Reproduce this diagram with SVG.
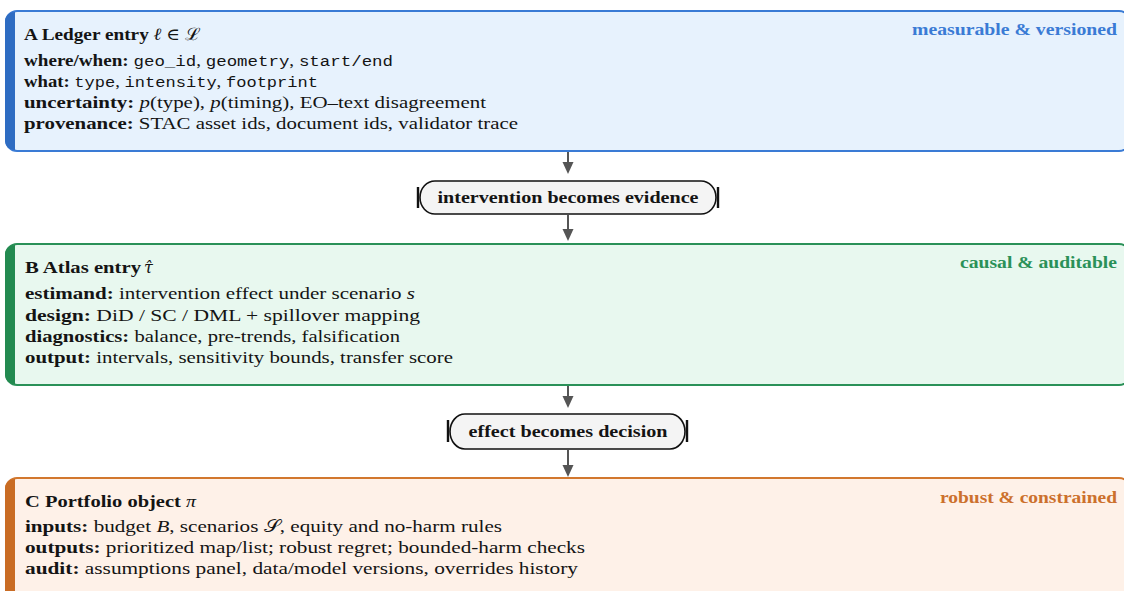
<svg xmlns="http://www.w3.org/2000/svg" width="1124" height="591" viewBox="0 0 1124 591">
<style>
text{font-family:"Liberation Serif","DejaVu Serif",serif;fill:#141414;font-size:17px}
.t{font-weight:bold;font-size:17.5px}
.b{font-weight:bold}
.m{font-family:"Liberation Mono","DejaVu Sans Mono",monospace;font-size:15.5px}
.i{font-style:italic}
.lab{font-weight:bold;font-size:17px;text-anchor:end}
.pill{fill:#f4f4f4;stroke:#111;stroke-width:1.6}
.bar{stroke:#111;stroke-width:2.4}
.pt{font-weight:bold;font-size:17.5px;text-anchor:middle}
.conn line{stroke:#555;stroke-width:2}
.conn polygon{fill:#555}
</style>
<g id="nodeA">
<rect x="6" y="11" width="1124" height="140" rx="11" fill="#e7f2fd" stroke="#3a7bd5" stroke-width="2"/>
<path d="M15,12 V150 H14 A9,9 0 0 1 5,141 V21 A9,9 0 0 1 14,12 Z" fill="#2e6cc2"/>
<text class="lab" x="1117" y="35" style="fill:#3a7bd5" textLength="205" lengthAdjust="spacingAndGlyphs">measurable &amp; versioned</text>
<text x="24" y="40" textLength="176" lengthAdjust="spacingAndGlyphs"><tspan class="t">A Ledger entry </tspan><tspan class="i">ℓ</tspan> ∈ ℒ</text>
<text x="24" y="66" textLength="369" lengthAdjust="spacingAndGlyphs"><tspan class="b">where/when: </tspan><tspan class="m">geo_id</tspan>, <tspan class="m">geometry</tspan>, <tspan class="m">start/end</tspan></text>
<text x="24" y="87" textLength="294" lengthAdjust="spacingAndGlyphs"><tspan class="b">what: </tspan><tspan class="m">type</tspan>, <tspan class="m">intensity</tspan>, <tspan class="m">footprint</tspan></text>
<text x="24" y="108" textLength="462" lengthAdjust="spacingAndGlyphs"><tspan class="b">uncertainty: </tspan><tspan class="i">p</tspan>(type), <tspan class="i">p</tspan>(timing), EO–text disagreement</text>
<text x="24" y="129" textLength="494" lengthAdjust="spacingAndGlyphs"><tspan class="b">provenance: </tspan>STAC asset ids, document ids, validator trace</text>
</g>
<g id="pill1">
<path class="pill" d="M435,181 H701 A15,16.5 0 0 1 716,197.5 A15,16.5 0 0 1 701,214 H435 A15,16.5 0 0 1 420,197.5 A15,16.5 0 0 1 435,181 Z"/>
<line class="bar" x1="418" y1="187" x2="418" y2="208"/>
<line class="bar" x1="718" y1="187" x2="718" y2="208"/>
<text class="pt" x="568" y="203" textLength="261" lengthAdjust="spacingAndGlyphs">intervention becomes evidence</text>
</g>
<g id="nodeB">
<rect x="6" y="244" width="1124" height="141" rx="11" fill="#e8f8ef" stroke="#2a9158" stroke-width="2"/>
<path d="M15,245 V384 H14 A9,9 0 0 1 5,375 V254 A9,9 0 0 1 14,245 Z" fill="#238a50"/>
<text class="lab" x="1117" y="268" style="fill:#2a9158" textLength="157" lengthAdjust="spacingAndGlyphs">causal &amp; auditable</text>
<text x="25" y="273"><tspan class="t" textLength="116" lengthAdjust="spacingAndGlyphs">B Atlas entry</tspan><tspan class="i" x="144" style="font-family:'DejaVu Serif',serif;font-size:16px">τ̂</tspan></text>
<text x="25" y="299" textLength="390" lengthAdjust="spacingAndGlyphs"><tspan class="b">estimand: </tspan>intervention effect under scenario <tspan class="i">s</tspan></text>
<text x="25" y="321" textLength="395" lengthAdjust="spacingAndGlyphs"><tspan class="b">design: </tspan>DiD / SC / DML + spillover mapping</text>
<text x="25" y="342" textLength="375" lengthAdjust="spacingAndGlyphs"><tspan class="b">diagnostics: </tspan>balance, pre-trends, falsification</text>
<text x="25" y="363" textLength="428" lengthAdjust="spacingAndGlyphs"><tspan class="b">output: </tspan>intervals, sensitivity bounds, transfer score</text>
</g>
<g id="pill2">
<path class="pill" d="M465,414 H670 A15,17.5 0 0 1 685,431.5 A15,17.5 0 0 1 670,449 H465 A15,17.5 0 0 1 450,431.5 A15,17.5 0 0 1 465,414 Z"/>
<line class="bar" x1="448" y1="420" x2="448" y2="442"/>
<line class="bar" x1="687" y1="420" x2="687" y2="442"/>
<text class="pt" x="568" y="437" textLength="199" lengthAdjust="spacingAndGlyphs">effect becomes decision</text>
</g>
<g id="nodeC">
<rect x="6" y="478" width="1124" height="140" rx="11" fill="#fef1e8" stroke="#d2772e" stroke-width="2"/>
<path d="M15,479 V600 H5 V488 A9,9 0 0 1 14,479 Z" fill="#c96c24"/>
<text class="lab" x="1117" y="503" style="fill:#cc702c" textLength="177" lengthAdjust="spacingAndGlyphs">robust &amp; constrained</text>
<text x="25" y="507" textLength="171" lengthAdjust="spacingAndGlyphs"><tspan class="t">C Portfolio object </tspan><tspan class="i">π</tspan></text>
<text x="25" y="532" textLength="477" lengthAdjust="spacingAndGlyphs"><tspan class="b">inputs: </tspan>budget <tspan class="i">B</tspan>, scenarios 𝒮, equity and no-harm rules</text>
<text x="25" y="553" textLength="560" lengthAdjust="spacingAndGlyphs"><tspan class="b">outputs: </tspan>prioritized map/list; robust regret; bounded-harm checks</text>
<text x="25" y="574" textLength="553" lengthAdjust="spacingAndGlyphs"><tspan class="b">audit: </tspan>assumptions panel, data/model versions, overrides history</text>
</g>
<g id="connectors" class="conn">
<line x1="568" y1="152" x2="568" y2="164"/><polygon points="562.5,162 573.5,162 568,174"/>
<line x1="568" y1="215" x2="568" y2="231"/><polygon points="562.5,229 573.5,229 568,241"/>
<line x1="568" y1="386" x2="568" y2="398"/><polygon points="562.5,396 573.5,396 568,408"/>
<line x1="568" y1="450" x2="568" y2="467"/><polygon points="562.5,465 573.5,465 568,477"/>
</g>
</svg>
